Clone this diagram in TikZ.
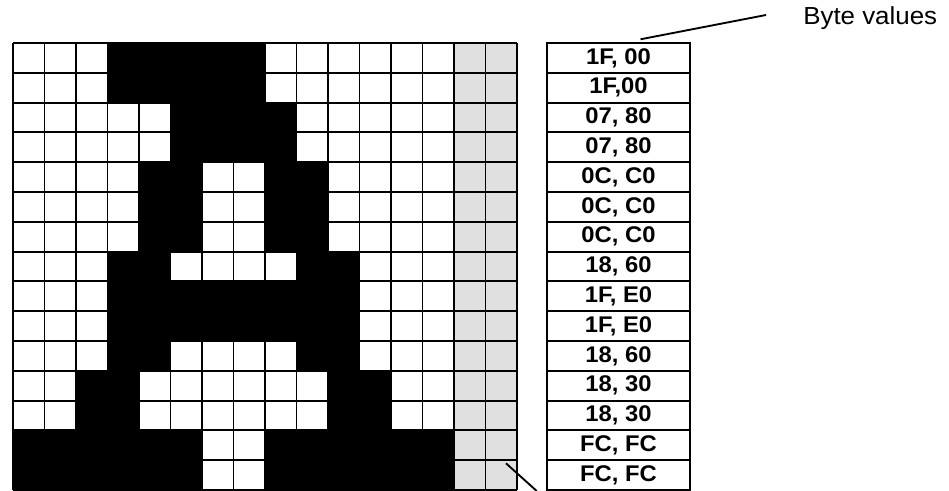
\documentclass[tikz,border=0pt]{standalone}
\usepackage{fontspec}
\setmainfont{Liberation Sans}
\newfontfamily\bytefont[FakeStretch=1.05]{Liberation Sans}
\newfontfamily\labelfont[FakeStretch=1.05]{Liberation Sans}
\definecolor{padgray}{HTML}{E0E0E0}
\tikzset{
  cellline/.style={line width=1.4pt},
  bytebox/.style={draw, line width=1.4pt, inner sep=0pt, outer sep=0pt,
    minimum width=107.25pt, minimum height=22.35pt,
    font=\bytefont\bfseries\fontsize{17}{19}\selectfont},
}
\begin{document}
\begin{tikzpicture}[x=0.75pt, y=-0.75pt]
  \useasboundingbox (0,0) rectangle (949,491);

  % unused padding columns
  \fill[padgray] (454,43) rectangle (517,490);

  % black pixels: row / first column / last column
  \foreach \r/\a/\b in {0/3/7, 1/3/7, 2/5/8, 3/5/8,
      4/4/5, 4/8/9, 5/4/5, 5/8/9, 6/4/5, 6/8/9,
      7/3/4, 7/9/10, 8/3/10, 9/3/10, 10/3/4, 10/9/10,
      11/2/3, 11/10/11, 12/2/3, 12/10/11,
      13/0/5, 13/8/13, 14/0/5, 14/8/13}
    \fill ({13+31.5*\a},{43+29.8*\r}) rectangle ({13+31.5*(\b+1)},{43+29.8*(\r+1)});

  % grid
  \foreach \c in {0,...,16}
    \draw[cellline] ({13+31.5*\c},43) -- ({13+31.5*\c},490);
  \foreach \r in {0,...,15}
    \draw[cellline] (13,{43+29.8*\r}) -- (517,{43+29.8*\r});

  % byte table
  \foreach \i/\val in {0/{1F, 00}, 1/{1F,00}, 2/{07, 80}, 3/{07, 80},
      4/{0C, C0}, 5/{0C, C0}, 6/{0C, C0}, 7/{18, 60}, 8/{1F, E0},
      9/{1F, E0}, 10/{18, 60}, 11/{18, 30}, 12/{18, 30},
      13/{FC, FC}, 14/{FC, FC}}
    \node[bytebox] (byte\i) at (618.5,{43+29.8*(\i+0.5)}) {\val};

  \node[font=\labelfont\fontsize{18.5}{21}\selectfont, anchor=base west, inner sep=0pt] (bytelabel) at (803,25) {Byte values};

  % leader lines
  \coordinate (tabpin) at ([shift={(22,-3.7)}]byte0.north);
  \coordinate (labelpin) at (766,15);
  \draw[cellline] (tabpin) -- (labelpin);
  \coordinate (padpin) at (506,463.3);
  \coordinate (padend) at (536.7,491);
  \draw[cellline] (padpin) -- (padend);
\end{tikzpicture}
\end{document}
